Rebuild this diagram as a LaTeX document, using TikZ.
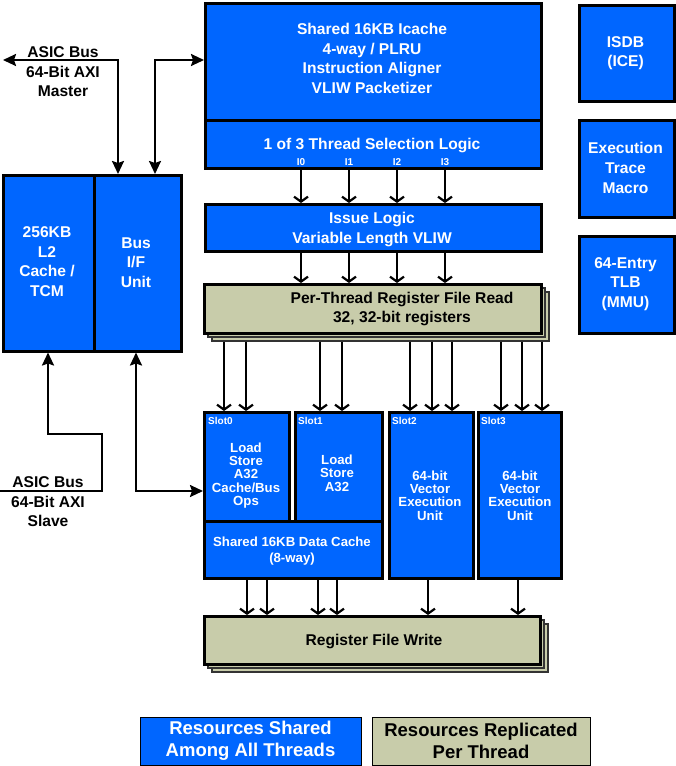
\documentclass[tikz,border=0pt]{standalone}
\usepackage{fontspec}
\setmainfont{Liberation Sans}
\usetikzlibrary{arrows.meta}
\definecolor{hblue}{RGB}{0,102,255}
\definecolor{htan}{RGB}{200,204,170}
\newcommand{\fbig}{\fontsize{15.6}{19.6}\selectfont\bfseries}
\newcommand{\fmid}{\fontsize{13.2}{13.3}\selectfont\bfseries}
\newcommand{\fdc}{\fontsize{13.2}{16}\selectfont\bfseries}
\newcommand{\fsmall}{\fontsize{10}{12}\selectfont\bfseries}
\newcommand{\fleg}{\fontsize{18.5}{22}\selectfont\bfseries}
\tikzset{
  bluebox/.style={draw=black, line width=2.5pt, fill=hblue, inner sep=0pt, anchor=north west},
  tanbox/.style={draw=black, line width=2.5pt, fill=htan, inner sep=0pt, anchor=north west},
  shadowbox/.style={draw=black!80, line width=1.5pt, fill=htan, inner sep=0pt, anchor=north west},
  legbox/.style={draw=black, line width=1.2pt, inner sep=0pt, anchor=north west},
  wtxt/.style={text=white, align=center, inner sep=0pt},
  ktxt/.style={text=black, align=center, inner sep=0pt},
  chev/.style={line width=2.2pt, -{Straight Barb[length=5pt,width=14pt,line width=2.2pt]}},
  bus/.style={line width=2.2pt, {Stealth[length=13pt,width=12pt,inset=2pt]}-{Stealth[length=13pt,width=12pt,inset=2pt]}},
  bus1/.style={line width=2.2pt, -{Stealth[length=13pt,width=12pt,inset=2pt]}}
}
\begin{document}
\begin{tikzpicture}[x=1pt,y=-1pt]
\useasboundingbox (0,0) rectangle (675,766);
% ---------- top pipeline ----------
\node[bluebox, minimum width=336pt, minimum height=117pt] (icache) at (204,2) {};
\node[bluebox, minimum width=336pt, minimum height=48pt] (tsel) at (204,119) {};
\node[bluebox, minimum width=336pt, minimum height=47pt] (issue) at (204,203) {};
\node[wtxt, font=\fbig] (icachet) at (372,58.5) {Shared 16KB Icache\\4-way / PLRU\\Instruction Aligner\\VLIW Packetizer};
\node[wtxt, font=\fbig] (tselt) at (372,145) {1 of 3 Thread Selection Logic};
\node[wtxt, font=\fsmall] (i0) at (301,162) {I0};
\node[wtxt, font=\fsmall] (i1) at (349,162) {I1};
\node[wtxt, font=\fsmall] (i2) at (397,162) {I2};
\node[wtxt, font=\fsmall] (i3) at (445,162) {I3};
\node[wtxt, font=\fbig] (issuet) at (372,229.5) {Issue Logic\\Variable Length VLIW};
% register file read (stacked)
\node[shadowbox, minimum width=337pt, minimum height=49pt] (rfr2) at (211,291) {};
\node[shadowbox, minimum width=337pt, minimum height=49pt] (rfr1) at (207,287) {};
\node[tanbox, minimum width=337pt, minimum height=49pt] (rfr) at (203,283) {};
\node[ktxt, font=\fbig] (rfrt) at (402,309) {Per-Thread Register File Read\\32, 32-bit registers};
% ---------- left blocks ----------
\node[bluebox, minimum width=91pt, minimum height=176pt] (l2) at (2,174) {};
\node[bluebox, minimum width=87pt, minimum height=176pt] (biu) at (93,174) {};
\node[wtxt, font=\fbig] (l2t) at (47,261.5) {256KB\\L2\\Cache /\\TCM};
\node[wtxt, font=\fbig] (biut) at (136,262.5) {Bus\\I/F\\Unit};
% ---------- right blocks ----------
\node[bluebox, minimum width=95pt, minimum height=96pt] (isdb) at (578,4) {};
\node[bluebox, minimum width=95pt, minimum height=97pt] (etm) at (578,119) {};
\node[bluebox, minimum width=95pt, minimum height=97pt] (tlb) at (578,235) {};
\node[wtxt, font=\fbig] (isdbt) at (625.5,53) {ISDB\\(ICE)};
\node[wtxt, font=\fbig] (etmt) at (625.5,168) {Execution\\Trace\\Macro};
\node[wtxt, font=\fbig] (tlbt) at (625.5,284) {64-Entry\\TLB\\(MMU)};
% ---------- slots ----------
\node[bluebox, minimum width=85pt, minimum height=109pt] (slot0) at (203,411) {};
\node[bluebox, minimum width=87pt, minimum height=109pt] (slot1) at (294,411) {};
\node[bluebox, minimum width=178pt, minimum height=57pt] (dcache) at (203,520) {};
\node[bluebox, minimum width=84pt, minimum height=166pt] (slot2) at (388,411) {};
\node[bluebox, minimum width=83pt, minimum height=166pt] (slot3) at (477,411) {};
\node[wtxt, font=\fsmall, anchor=west] (s0l) at (208,421) {Slot0};
\node[wtxt, font=\fsmall, anchor=west] (s1l) at (298,421) {Slot1};
\node[wtxt, font=\fsmall, anchor=west] (s2l) at (392,421) {Slot2};
\node[wtxt, font=\fsmall, anchor=west] (s3l) at (481,421) {Slot3};
\node[wtxt, font=\fmid] (s0t) at (246,475.5) {Load\\Store\\A32\\Cache/Bus\\Ops};
\node[wtxt, font=\fmid] (s1t) at (337,473) {Load\\Store\\A32};
\node[wtxt, font=\fmid] (s2t) at (430,495.5) {64-bit\\Vector\\Execution\\Unit};
\node[wtxt, font=\fmid] (s3t) at (520,495.5) {64-bit\\Vector\\Execution\\Unit};
\node[wtxt, font=\fdc] (dct) at (292,551) {Shared 16KB Data Cache\\(8-way)};
% register file write (stacked)
\node[shadowbox, minimum width=336pt, minimum height=48pt] (rfw2) at (211,623) {};
\node[shadowbox, minimum width=336pt, minimum height=48pt] (rfw1) at (207,619) {};
\node[tanbox, minimum width=336pt, minimum height=48pt] (rfw) at (203,615) {};
\node[ktxt, font=\fbig] (rfwt) at (374,641) {Register File Write};
% ---------- legend ----------
\node[legbox, fill=hblue, minimum width=221pt, minimum height=48pt] (legb) at (140,717) {};
\node[legbox, fill=htan, minimum width=218pt, minimum height=48pt] (legt) at (372,717) {};
\node[wtxt, font=\fleg] (legbt) at (250.5,741) {Resources Shared\\Among All Threads};
\node[ktxt, font=\fleg] (legtt) at (481,741) {Resources Replicated\\Per Thread};
% ---------- bus labels ----------
\node[ktxt, font=\fbig] (mastert) at (63,72) {ASIC Bus\\64-Bit AXI\\Master};
\node[ktxt, font=\fbig] (slavet) at (48,502) {ASIC Bus\\64-Bit AXI\\Slave};
\coordinate (mend) at (3,60);
\coordinate (send) at (0,491);
% ---------- bus connectors ----------
\draw[bus] (mend) -- (118,60) -- (118,0 |- biu.north);
\draw[bus] (155,0 |- biu.north) -- (155,60) -- (icache.west |- 0,60);
\draw[bus1] (send) -- (102,491) -- (102,434) -- (48,434) -- (48,0 |- l2.south);
\draw[bus] (136,0 |- biu.south) -- (136,491) -- (slot0.west |- 0,491);
% ---------- pipeline arrows ----------
\foreach \x in {301,349,397,445} {
  \draw[chev] (\x,0 |- tsel.south) -- (\x,0 |- issue.north);
  \draw[chev] (\x,0 |- issue.south) -- (\x,0 |- rfr.north);
}
\foreach \x in {224,246} \draw[chev] (\x,0 |- rfr2.south) -- (\x,0 |- slot0.north);
\foreach \x in {320,342} \draw[chev] (\x,0 |- rfr2.south) -- (\x,0 |- slot1.north);
\foreach \x in {410,432,452} \draw[chev] (\x,0 |- rfr2.south) -- (\x,0 |- slot2.north);
\foreach \x in {501,522,542} \draw[chev] (\x,0 |- rfr2.south) -- (\x,0 |- slot3.north);
\foreach \x in {247,267,318,337} \draw[chev] (\x,0 |- dcache.south) -- (\x,0 |- rfw.north);
\draw[chev] (428,0 |- slot2.south) -- (428,0 |- rfw.north);
\draw[chev] (518,0 |- slot3.south) -- (518,0 |- rfw.north);
\end{tikzpicture}
\end{document}
